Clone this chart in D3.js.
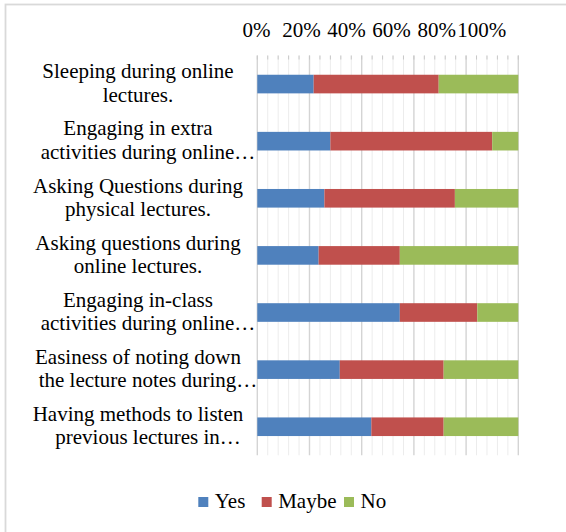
<!DOCTYPE html>
<html><head><meta charset="utf-8">
<script src="https://cdn.jsdelivr.net/npm/d3@7"></script>
<style>
body{margin:0;background:#fff;}
svg text{font-family:'Liberation Serif', 'Times New Roman', Times, serif;fill:#000;}
</style></head>
<body><svg id="c" width="566" height="532"></svg>
<script>
const categories = [
  ["Sleeping during online","lectures."],
  ["Engaging in extra","activities during online…"],
  ["Asking Questions during","physical lectures."],
  ["Asking questions during","online lectures."],
  ["Engaging in-class","activities during online…"],
  ["Easiness of noting down","the lecture notes during…"],
  ["Having methods to listen","previous lectures in…"]
];
const seriesNames = ["Yes","Maybe","No"];
const yesVals   = [21.6, 28.0, 25.7, 23.5, 54.6, 31.6, 43.7];
const maybeVals = [47.9, 62.0, 50.0, 31.1, 29.7, 39.8, 27.7];
const noVals    = [30.5, 10.0, 24.3, 45.4, 15.7, 28.6, 28.6];
const tickLabels = ["0%","20%","40%","60%","80%","100%"];
const colors = ["#4F81BD","#C0504D","#9BBB59"];
const FONT = "Liberation Serif";

const svg = d3.select("#c");
svg.append("rect").attr("x",5.5).attr("y",4.5).attr("width",700).attr("height",700)
  .attr("fill","none").attr("stroke","#d9d9d9").attr("stroke-width",1.8);

const keys = categories.map((c,i)=>i);
const rows = keys.map(i=>({id:i, Yes:yesVals[i], Maybe:maybeVals[i], No:noVals[i]}));
const x = d3.scaleLinear().domain([0,100]).range([257.3,518.3]);
const y = d3.scaleBand().domain(keys).range([55.5,455.3]).paddingInner(0.674).paddingOuter(0.337);

// gridlines
const gridTicks = d3.range(0,101,4);
const g = svg.append("g");
g.selectAll("line").data(gridTicks).join("line")
  .attr("x1",d=>x(d)).attr("x2",d=>x(d))
  .attr("y1",55.5).attr("y2",455.3)
  .attr("stroke",d=> d%20===0 ? "#d4d4d4" : "#ececec")
  .attr("stroke-width",d=> d%20===0 ? 1.4 : 1);
// small tick marks at top
g.append("g").selectAll("line").data(gridTicks).join("line")
  .attr("x1",d=>x(d)).attr("x2",d=>x(d)).attr("y1",55.5).attr("y2",59.5)
  .attr("stroke","#c8c8c8").attr("stroke-width",1);

// bars
const stack = d3.stack().keys(seriesNames)(rows);
svg.append("g").selectAll("g").data(stack).join("g")
  .attr("fill",(d,i)=>colors[i])
  .selectAll("rect").data(d=>d).join("rect")
  .attr("x",d=>x(d[0])).attr("width",d=>x(d[1])-x(d[0]))
  .attr("y",d=>y(d.data.id)).attr("height",y.bandwidth());

// top tick labels (compressed as in the reference)
const tx = d3.scalePoint().domain(tickLabels).range([256.5,481.7]);
svg.append("g").selectAll("text").data(tickLabels).join("text")
  .attr("x",d=>tx(d)).attr("y",37).attr("text-anchor","middle")
  .attr("font-family",FONT).attr("font-size",21).text(d=>d);

// category labels
const lab = svg.append("g");
keys.forEach(i=>{
  const cy = y(i)+y.bandwidth()/2;
  categories[i].forEach((line,j)=>{
    const ell = line.endsWith("…");
    lab.append("text").attr("x", ell ? 148 : 138)
      .attr("y", cy - 5.7 + j*23.4)
      .attr("text-anchor","middle").attr("font-family",FONT).attr("font-size",21).text(line);
  });
});

// legend
const legX = [198.3, 261.7, 344];
const leg = svg.append("g");
seriesNames.forEach((s,i)=>{
  leg.append("rect").attr("x",legX[i]).attr("y",497).attr("width",10).attr("height",10).attr("fill",colors[i]);
  leg.append("text").attr("x",legX[i]+16.5).attr("y",507.5).attr("font-family",FONT).attr("font-size",21).text(s);
});
</script></body></html>
